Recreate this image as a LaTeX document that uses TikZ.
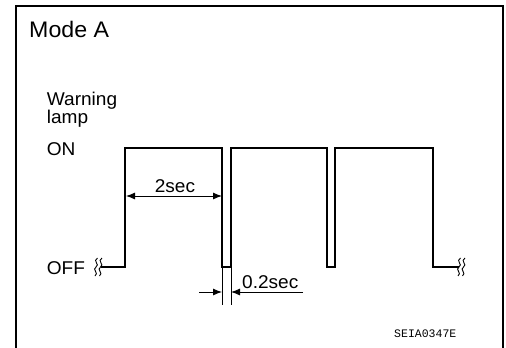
\documentclass[tikz,border=0pt]{standalone}
\usepackage{fontspec}
\setmainfont{Liberation Sans}[FakeStretch=1.03]
\setmonofont{Liberation Mono}
\usetikzlibrary{arrows.meta}
\tikzset{
  frame/.style={line width=2.6pt},
  wave/.style={line width=2pt, line join=miter},
  dim/.style={line width=0.9pt},
  dimarrow/.style={line width=0.9pt, -{Latex[length=9pt,width=7pt]}},
  lbl/.style={inner sep=0pt, anchor=base west, font=\fontsize{18.5}{20}\selectfont},
  squig/.style={line width=0.9pt},
}
\begin{document}
\begin{tikzpicture}[x=1pt,y=-1pt]
\useasboundingbox (0,0) rectangle (506,348);
% frame (open at bottom)
\draw[frame] (16,349) -- (16,6) -- (503,6) -- (503,349);
% labels
\node[lbl, font=\fontsize{22.5}{24}\selectfont] (title) at (29,37.7) {Mode A};
\node[lbl] (warn) at (46.7,105) {Warning};
\node[lbl] (lamp) at (46.7,123.3) {lamp};
\node[lbl] (on) at (46.7,155) {ON};
\node[lbl] (off) at (46.7,274) {OFF};
\node[lbl, anchor=base] (t2) at (175,192.7) {2sec};
\node[lbl] (t02) at (242,288.3) {0.2sec};
\node[inner sep=0pt, anchor=base west, font=\fontsize{11.5}{12}\ttfamily] (code) at (394,337) {SEIA0347E};
% waveform
\coordinate (s1) at (101,267);
\coordinate (r1) at (125,267);
\coordinate (f1) at (222,267);
\coordinate (r2) at (231,267);
\coordinate (f2) at (327,267);
\coordinate (r3) at (335,267);
\coordinate (f3) at (433,267);
\coordinate (s2) at (459,267);
\draw[wave] (s1) -- (r1) -- (125,148) -- (222,148) -- (f1) -- (r2) -- (231,148) -- (327,148) -- (f2) -- (r3) -- (335,148) -- (433,148) -- (f3) -- (s2);
% squiggles
\foreach \x in {96,100.5,459,463.5}{
  \draw[squig] (\x+1.5,258) .. controls (\x-4,261) and (\x+4.5,264.5) .. (\x,267) .. controls (\x-4.5,269.5) and (\x+3.5,273) .. (\x-1,276);
}
% 2sec dimension
\coordinate (a1) at (126,196);
\coordinate (a2) at (222,196);
\draw[dim, {Latex[length=9pt,width=7pt]}-{Latex[length=9pt,width=7pt]}] (a1) -- (a2);
% 0.2sec extension lines
\coordinate (e1) at (222,305);
\coordinate (e2) at (231,305);
\draw[dim] (f1) -- (e1);
\draw[dim] (r2) -- (e2);
\coordinate (b1) at (199,292);
\coordinate (b1t) at (222,292);
\coordinate (b2) at (303,292);
\coordinate (b2t) at (231,292);
\draw[dimarrow] (b1) -- (b1t);
\draw[dimarrow] (b2) -- (b2t);
\end{tikzpicture}
\end{document}
